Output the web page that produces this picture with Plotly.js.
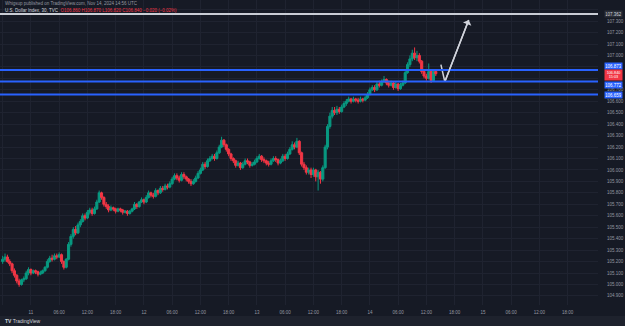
<!DOCTYPE html>
<html><head><meta charset="utf-8">
<script src="https://cdn.plot.ly/plotly-3.0.1.min.js"></script>
<style>html,body{margin:0;padding:0;background:#161a25;overflow:hidden}#chart{width:625px;height:326px}</style>
</head><body><div id="chart"></div>
<script>
// ---- data (30-minute candles, U.S. Dollar Index, TVC) ----
const startTime = '2024-11-10T18:00:00Z';
const firstOpen = 105.20;
const closes = [
105.22,105.24,105.20,105.18,105.12, 105.08,105.03,105.00,105.04,105.05,
105.10,105.13,105.10,105.12,105.11,105.09,105.10, 105.12,105.15,105.20,105.23,
105.22,105.25,105.24,105.26,105.20,105.15,105.22, 105.35,105.42,105.48,105.45,105.52,
105.55,105.60,105.58,105.63,105.65,105.62,105.66,105.72, 105.80,105.76,105.70,105.68,105.65,
105.67,105.66,105.64,105.66,105.65,105.63,105.64, 105.62,105.64,105.66,105.70,105.68,105.72,
105.74,105.72,105.76,105.80,105.78,105.77,105.82, 105.80,105.84,105.83,105.86,105.85,105.88,105.92,
105.95,105.93,105.91,105.96,105.94,105.92, 105.90,105.88,105.90,105.93,105.97,106.00,
106.05,106.03,106.08,106.10,106.12,106.10,106.15,106.20, 106.26,106.22,106.18,106.14,106.10,
106.08,106.04,106.06,106.02,106.05,106.08,106.07, 106.04,106.05,106.07,106.10,106.12,106.09,106.08,
106.06,106.05,106.08,106.10,106.09,106.06,106.08, 106.12,106.10,106.14,106.18,106.22,106.20,106.25,
106.15,106.05,106.02,105.98,106.00,105.96,106.00, 105.94,105.98,105.92,106.02,106.20,
106.38,106.47,106.52,106.50,106.53, 106.51,106.55,106.58,106.60,106.62,106.60,106.62,
106.61,106.60,106.62,106.61,106.63,106.66,106.70, 106.72,106.70,106.75,106.74,106.77,106.79,106.76,
106.74,106.76,106.72,106.75,106.71,106.74,106.76, 106.85,106.92,106.97,107.02,106.98,107.00,
106.95,106.86,106.82,106.80,106.86,106.78,106.86,106.84];
const highs = [
105.25,105.27,105.26,105.22,105.19, 105.14,105.09,105.05,105.05,105.07,
105.12,105.15,105.14,105.13,105.13,105.12,105.12, 105.13,105.16,105.22,105.25,
105.26,105.27,105.27,105.28,105.27,105.21,105.23, 105.37,105.44,105.50,105.51,105.54,
105.57,105.62,105.62,105.65,105.67,105.67,105.68,105.74, 105.82,105.81,105.77,105.72,105.70,
105.69,105.68,105.67,105.67,105.67,105.66,105.65, 105.65,105.65,105.67,105.72,105.71,105.73,
105.76,105.75,105.78,105.82,105.81,105.80,105.84, 105.83,105.86,105.86,105.88,105.88,105.90,105.94,
105.97,105.97,105.95,105.98,105.98,105.95, 105.93,105.92,105.92,105.95,105.99,106.02,
106.07,106.07,106.10,106.12,106.14,106.14,106.17,106.22, 106.29,106.27,106.23,106.19,106.15,
106.11,106.09,106.08,106.07,106.07,106.10,106.10, 106.08,106.07,106.09,106.12,106.14,106.13,106.11,
106.09,106.08,106.10,106.12,106.12,106.10,106.10, 106.14,106.14,106.16,106.20,106.25,106.24,106.28,
106.26,106.16,106.07,106.04,106.02,106.02,106.02, 106.01,106.00,105.99,106.04,106.22,
106.40,106.50,106.55,106.55,106.56, 106.55,106.57,106.60,106.62,106.64,106.63,106.64,
106.63,106.63,106.64,106.63,106.65,106.68,106.72, 106.74,106.74,106.77,106.78,106.79,106.82,106.80,
106.78,106.78,106.77,106.77,106.76,106.76,106.78, 106.87,106.94,107.00,107.05,107.07,107.04,
107.02,106.96,106.88,106.84,106.93,106.87,106.88,106.87];
const lows = [
105.18,105.20,105.19,105.16,105.10, 105.06,105.01,104.98,104.99,105.02,
105.04,105.08,105.08,105.09,105.09,105.07,105.08, 105.09,105.11,105.14,105.19,
105.20,105.21,105.22,105.23,105.18,105.13,105.14, 105.21,105.33,105.40,105.43,105.44,
105.50,105.54,105.56,105.57,105.61,105.60,105.61,105.65, 105.71,105.74,105.68,105.66,105.63,
105.64,105.64,105.62,105.63,105.63,105.61,105.62, 105.60,105.61,105.63,105.65,105.66,105.67,
105.71,105.70,105.71,105.75,105.76,105.75,105.76, 105.78,105.79,105.81,105.82,105.83,105.84,105.87,
105.91,105.91,105.89,105.90,105.92,105.90, 105.88,105.86,105.87,105.89,105.92,105.96,
105.99,106.01,106.02,106.07,106.09,106.08,106.09,106.14, 106.19,106.20,106.16,106.12,106.08,
106.06,106.02,106.03,106.00,106.01,106.04,106.05, 106.02,106.03,106.04,106.06,106.09,106.07,106.06,
106.04,106.03,106.04,106.07,106.07,106.04,106.05, 106.07,106.08,106.09,106.13,106.17,106.18,106.19,
106.13,106.03,106.00,105.96,105.96,105.93,105.94, 105.90,105.82,105.88,105.90,106.01,
106.18,106.36,106.45,106.48,106.48, 106.49,106.50,106.54,106.56,106.59,106.58,106.59,
106.59,106.58,106.59,106.59,106.60,106.62,106.65, 106.69,106.68,106.69,106.72,106.73,106.76,106.74,
106.72,106.73,106.70,106.71,106.69,106.70,106.73, 106.75,106.84,106.90,106.95,106.96,106.95,
106.93,106.84,106.80,106.78,106.79,106.76,106.77,106.82];

// drawn levels and projection
const whiteLevel = 107.362;
const blueLevels = [106.873, 106.772, 106.659];
const projTimes = ['2024-11-14 15:05', '2024-11-14 15:55', '2024-11-14 21:00'];
const projPrices = [106.92, 106.77, 107.31];

// axis ticks
const tickTimes = ['2024-11-10 18:00','2024-11-11 00:00','2024-11-11 06:00','2024-11-11 12:00','2024-11-11 18:00',
 '2024-11-12 00:00','2024-11-12 06:00','2024-11-12 12:00','2024-11-12 18:00',
 '2024-11-13 00:00','2024-11-13 06:00','2024-11-13 12:00','2024-11-13 18:00',
 '2024-11-14 00:00','2024-11-14 06:00','2024-11-14 12:00','2024-11-14 18:00',
 '2024-11-15 00:00','2024-11-15 06:00','2024-11-15 12:00','2024-11-15 18:00'];
const tickLabels = ['18:00','11','06:00','12:00','18:00','12','06:00','12:00','18:00','13','06:00','12:00','18:00',
 '14','06:00','12:00','18:00','15','06:00','12:00','18:00'];
// price-scale ticks (labels hidden where the level boxes cover them)
const yTickVals = [107.4,107.3,107.2,107.1,107.0,106.9,106.8,106.7,106.6,106.5,106.4,106.3,106.2,106.1,106.0,
 105.9,105.8,105.7,105.6,105.5,105.4,105.3,105.2,105.1,105.0,104.9];
const yTickText = ['','107.300','107.200','107.100','107.000','','','106.700','106.600','106.500','106.400','106.300',
 '106.200','106.100','106.000','105.900','105.800','105.700','105.600','105.500','105.400','105.300','105.200',
 '105.100','105.000','104.900'];

// ---- build ----
const t0 = Date.parse(startTime);
function fmt(ms){ const d = new Date(ms).toISOString(); return d.slice(0,10)+' '+d.slice(11,16); }
const times = closes.map((_, i) => fmt(t0 + i*30*60000));
const opens = [firstOpen].concat(closes.slice(0, -1));
const last = closes.length - 1;

const GREEN = '#089981', RED = '#f23645', BLUE = '#2962ff';
const FONT = 'Liberation Sans, Arial';

const traces = [
 {type:'candlestick', x:times, open:opens, high:highs, low:lows, close:closes,
  increasing:{line:{color:GREEN,width:1}, fillcolor:GREEN},
  decreasing:{line:{color:RED,width:1}, fillcolor:RED},
  whiskerwidth:0, hoverinfo:'none', showlegend:false},
 {type:'scatter', mode:'lines', x:projTimes, y:projPrices,
  line:{color:'#d1d4dc', width:1.5}, hoverinfo:'none', showlegend:false}
];

const shapes = [
 {type:'line', xref:'paper', x0:0, x1:1, yref:'y', y0:whiteLevel, y1:whiteLevel, line:{color:'#c9ccd4', width:2}},
 ...blueLevels.map(v => ({type:'line', xref:'paper', x0:0, x1:1, yref:'y', y0:v, y1:v, line:{color:BLUE, width:2}})),
 {type:'rect', xref:'paper', yref:'paper', x0:0, x1:625/598, y0:-21/305, y1:-11/305, line:{width:0}, fillcolor:'#1e222d', layer:'above'}
];

function axLabel(v, txt, bg, fg, yshift, size){
 return {xref:'paper', x:1, xanchor:'left', xshift:6, yref:'y', y:v, yanchor:'middle', yshift:yshift||0,
  text:txt, showarrow:false, bgcolor:bg, borderpad:0.5, width:16, font:{size:size||4.5, color:fg, family:FONT}};
}
const lastC = closes[last], lastO = opens[last];
const chg = lastC - lastO;
const sgn = chg < 0 ? '\u2212' : '+';
const annotations = [
 {xref:'paper', x:0, xanchor:'left', xshift:3, yref:'paper', y:1-4/305, yanchor:'middle', showarrow:false,
  text:'Whigsup published on TradingView.com, Nov 14, 2024 14:56 UTC', font:{size:4.5, color:'#9598a1', family:FONT}},
 {xref:'paper', x:0, xanchor:'left', xshift:3, yref:'paper', y:1-11/305, yanchor:'middle', showarrow:false,
  text:'<span style="color:#d1d4dc">U.S. Dollar Index, 30, TVC</span>  <span style="color:#f23645">O'+lastO.toFixed(3)+' H'+highs[last].toFixed(3)+' L'+lows[last].toFixed(3)+' C'+lastC.toFixed(3)+' '+sgn+Math.abs(chg).toFixed(3)+' ('+sgn+Math.abs(chg/lastO*100).toFixed(2)+'%)</span>',
  font:{size:4.5, family:FONT}},
 {x:projTimes[2], y:projPrices[2], ax:projTimes[1], ay:projPrices[1], axref:'x', ayref:'y', xref:'x', yref:'y',
  text:'', showarrow:true, arrowhead:1, arrowsize:1, arrowwidth:1.5, arrowcolor:'#d1d4dc'},
 axLabel(whiteLevel, whiteLevel.toFixed(3), '#2a2e39', '#d1d4dc'),
 axLabel(blueLevels[0], blueLevels[0].toFixed(3), BLUE, '#ffffff', 4),
 axLabel(lastC, lastC.toFixed(3)+'<br>15:03', RED, '#ffffff', -1, 3.8),
 axLabel(blueLevels[1], blueLevels[1].toFixed(3), BLUE, '#ffffff', -3),
 axLabel(blueLevels[2], blueLevels[2].toFixed(3), BLUE, '#ffffff'),
 {xref:'paper', x:0, xanchor:'left', xshift:3, yref:'paper', y:-16/305, yanchor:'middle', showarrow:false,
  text:'<b>TV</b> TradingView', font:{size:5, color:'#d1d4dc', family:FONT}}
];

const layout = {
 width:625, height:326, margin:{l:0, r:27, t:0, b:21},
 paper_bgcolor:'#161a25', plot_bgcolor:'#161a25',
 showlegend:false, dragmode:false, boxgap:0.12, boxgroupgap:0,
 xaxis:{type:'date', range:['2024-11-10 17:26','2024-11-16 00:27'], tickmode:'array', tickvals:tickTimes, ticktext:tickLabels,
  showgrid:true, gridcolor:'#1f2330', gridwidth:1, zeroline:false, showline:false, ticks:'',
  tickfont:{size:4.5, color:'#9598a1', family:FONT}, ticklabelstandoff:3,
  rangeslider:{visible:false}, fixedrange:true},
 yaxis:{side:'right', range:[104.8205, 107.4843], tickmode:'array', tickvals:yTickVals, ticktext:yTickText,
  showgrid:true, gridcolor:'#1f2330', gridwidth:1, zeroline:false, showline:false, ticks:'',
  tickfont:{size:4.5, color:'#9598a1', family:FONT}, ticklabelstandoff:8, fixedrange:true},
 shapes:shapes, annotations:annotations
};
Plotly.newPlot('chart', traces, layout, {staticPlot:true, displayModeBar:false});
</script></body></html>
